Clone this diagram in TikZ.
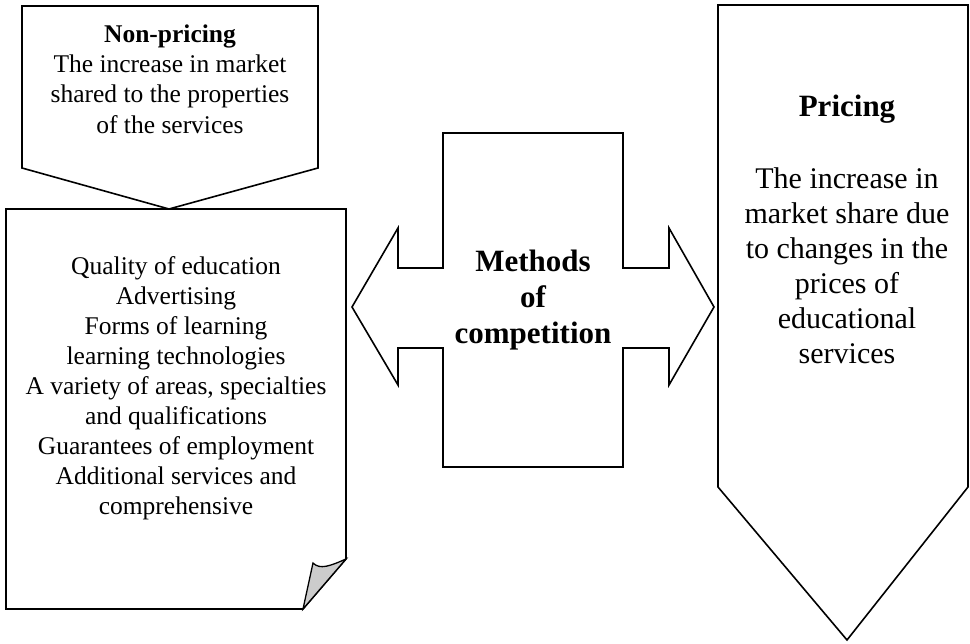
\documentclass[tikz,border=0pt]{standalone}
\usepackage{fontspec}
\setmainfont{Liberation Serif}
\begin{document}
\begin{tikzpicture}[x=1pt,y=-1pt,
  shape line/.style={draw=black,line width=1.6pt,line join=miter},
  txt/.style={align=center,inner sep=0pt,anchor=center},
  np txt/.style={txt,font=\fontsize{25.5}{30.3}\selectfont},
  list txt/.style={txt,font=\fontsize{25.5}{30}\selectfont},
  pr txt/.style={txt,font=\fontsize{30}{35}\selectfont},
  pr title/.style={txt,font=\fontsize{31}{36}\selectfont\bfseries},
  bold txt/.style={txt,font=\fontsize{31}{36}\selectfont\bfseries}]
\useasboundingbox (0,0) rectangle (970,644);
% Non-pricing pentagon
\draw[shape line] (22,6) -- (318,6) -- (318,168) -- (169,209) -- (22,168) -- cycle;
% folded document
\draw[shape line] (6,209) -- (346,209) -- (346,559) -- (303,609) -- (6,609) -- cycle;
\draw[shape line,fill=black!20,line width=1.3pt] (303,609) -- (313,563) .. controls (320,570) and (330,566) .. (346,559) -- cycle;
% double arrow
\draw[shape line] (352,307) -- (398,228) -- (398,268) -- (443,268) -- (443,133) -- (623,133) -- (623,268) -- (669,268) -- (669,228) -- (714,307) -- (669,385) -- (669,348) -- (623,348) -- (623,467) -- (443,467) -- (443,348) -- (398,348) -- (398,385) -- cycle;
% Pricing pentagon
\draw[shape line] (718,5) -- (968,5) -- (968,487) -- (847,640) -- (718,487) -- cycle;
% texts
\node[np txt] (np) at (170,79) {\textbf{Non-pricing}\\The increase in market\\shared to the properties\\of the services};
\node[list txt] (list) at (176,388) {Quality of education\\Advertising\\Forms of learning\\learning technologies\\A variety of areas, specialties\\and qualifications\\Guarantees of employment\\Additional services and\\comprehensive};
\node[bold txt] (mc) at (533,300) {Methods\\of\\competition};
\node[pr title] (pr) at (847,109) {Pricing};
\node[pr txt] (prt) at (847,266) {The increase in\\market share due\\to changes in the\\prices of\\educational\\services};
\end{tikzpicture}
\end{document}
